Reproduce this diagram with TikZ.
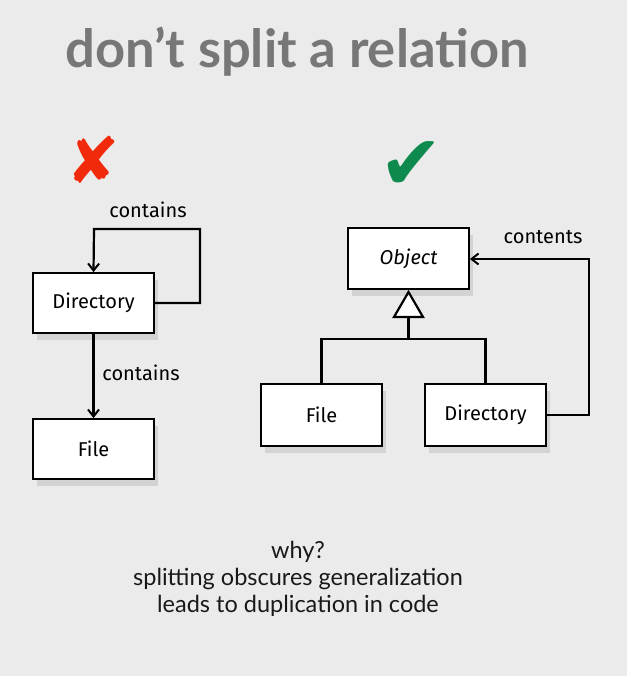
\documentclass[tikz,border=0pt]{standalone}
\usepackage{fontspec}
\setmainfont{Lato}
\newfontfamily\boxfont{Fira Sans}
\newfontfamily\symfont{DejaVu Sans}
\usetikzlibrary{arrows.meta,shadows}
\definecolor{bg}{HTML}{EBEBEB}
\definecolor{titlegray}{HTML}{777777}
\definecolor{xred}{HTML}{F22A0C}
\definecolor{okgreen}{HTML}{0E8A4E}
\tikzset{
  cls/.style={draw=black, line width=1.8pt, fill=white, minimum width=121pt, minimum height=60pt,
    inner sep=0pt, font=\boxfont\fontsize{20}{24}\selectfont,
    drop shadow={shadow xshift=4pt, shadow yshift=-7pt, opacity=0.10, fill=black}},
  conn/.style={draw=black, line width=2.2pt},
  arr/.style={conn, -{Straight Barb[length=7pt,width=11pt,line width=2pt]}},
  lbl/.style={font=\boxfont\fontsize{20}{24}\selectfont, inner sep=0pt},
  gen/.style={draw=black, line width=2.2pt, fill=white},
}
\begin{document}
\begin{tikzpicture}[x=1pt,y=-1pt]
\fill[bg] (0,0) rectangle (627,676);
\useasboundingbox (0,0) rectangle (627,676);
% title
\node[font=\fontsize{52.5}{58}\selectfont\bfseries, text=titlegray, anchor=base] (title) at (297,68) {don’t split a relation};
% marks
\node[font=\symfont\fontsize{64}{66}\selectfont, text=xred] (cross) at (93,160) {✘};
\node[font=\symfont\fontsize{76}{80}\selectfont, text=okgreen] (check) at (411,166) {✔};
% left diagram
\node[cls] (dir1) at (93.5,303) {Directory};
\node[cls] (file1) at (93.5,449) {File};
\coordinate (l1) at (200,303);
\coordinate (l2) at (200,229);
\coordinate (l3) at (94,229);
\draw[arr] (dir1.east) -- (l1) -- (l2) -- (l3) -- (dir1.north);
\draw[arr] (dir1.south) -- (file1.north);
\node[lbl] (lblc1) at (148,210) {contains};
\node[lbl] (lblc2) at (141,373) {contains};
% right diagram
\node[cls, font=\boxfont\itshape\fontsize{20}{24}\selectfont, minimum height=61pt] (obj) at (408.5,258.5) {Object};
\node[cls, minimum height=62pt] (file2) at (321.5,415) {File};
\node[cls, minimum height=62pt] (dir2) at (485.5,415) {Directory};
\coordinate (tri) at (408.5,317);
\coordinate (bar) at (408.5,339);
\draw[conn] (file2.north) -- (file2.north |- bar) -- (dir2.north |- bar) -- (dir2.north);
\draw[conn] (bar) -- (tri);
\draw[gen] (394,317) -- (423,317) -- (408.5,292) -- cycle;
\coordinate (r1) at (589,415);
\coordinate (r2) at (589,259);
\draw[arr] (dir2.east |- r1) -- (r1) -- (r2) -- (obj.east |- r2);
\node[lbl] (lblct) at (543,237) {contents};
% bottom text
\node[font=\fontsize{23.5}{27}\selectfont, align=center, anchor=north, text=black!90] (why) at (298,538)
  {why?\\splitting obscures generalization\\leads to duplication in code};
\end{tikzpicture}
\end{document}
